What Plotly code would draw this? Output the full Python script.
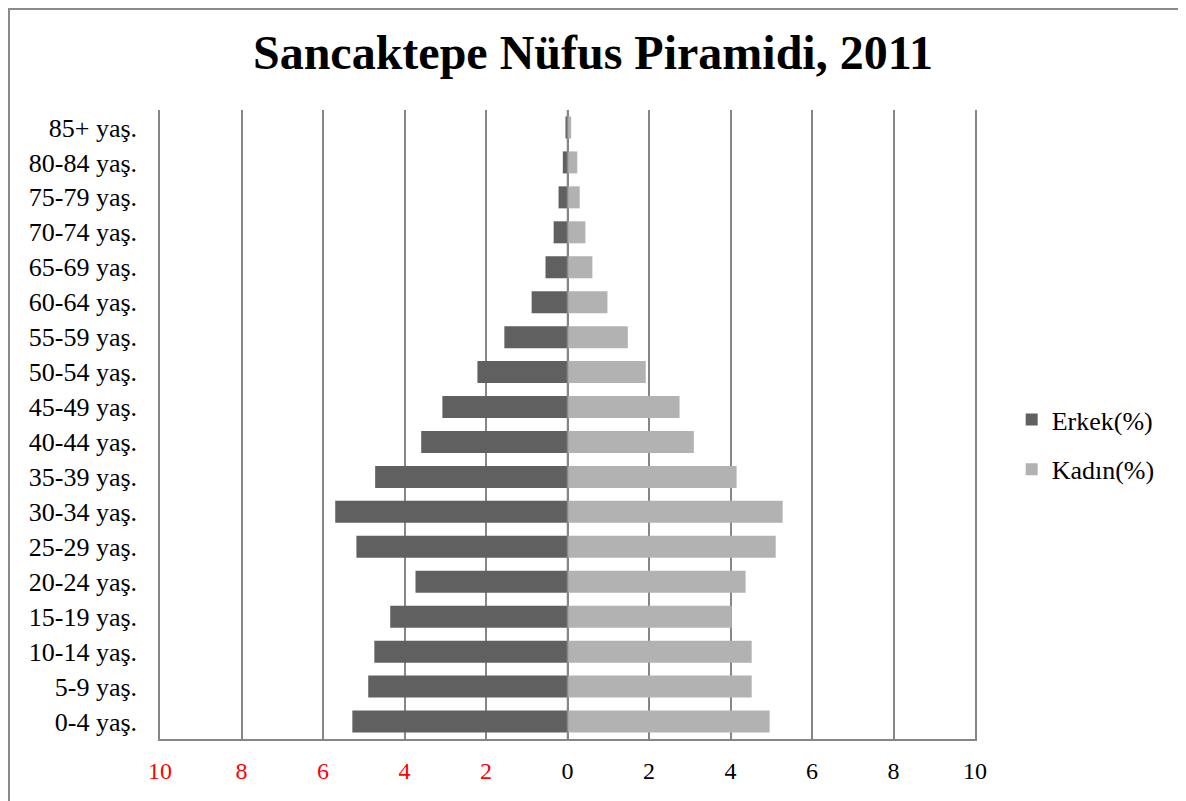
import plotly.graph_objects as go

categories = ["0-4 yaş.", "5-9 yaş.", "10-14 yaş.", "15-19 yaş.", "20-24 yaş.", "25-29 yaş.",
              "30-34 yaş.", "35-39 yaş.", "40-44 yaş.", "45-49 yaş.", "50-54 yaş.", "55-59 yaş.",
              "60-64 yaş.", "65-69 yaş.", "70-74 yaş.", "75-79 yaş.", "80-84 yaş.", "85+ yaş."]
erkek = [5.28, 4.89, 4.74, 4.35, 3.73, 5.18, 5.70, 4.72, 3.59, 3.07, 2.21, 1.55,
         0.88, 0.54, 0.34, 0.22, 0.115, 0.05]
kadin = [4.96, 4.52, 4.52, 4.03, 4.37, 5.11, 5.28, 4.15, 3.10, 2.75, 1.92, 1.48,
         0.98, 0.61, 0.44, 0.30, 0.24, 0.09]
tick_vals = [-10, -8, -6, -4, -2, 0, 2, 4, 6, 8, 10]
tick_text = ['<span style="color:#ff0000">10</span>', '<span style="color:#ff0000">8</span>',
             '<span style="color:#ff0000">6</span>', '<span style="color:#ff0000">4</span>',
             '<span style="color:#ff0000">2</span>', "0", "2", "4", "6", "8", "10"]

FONT = "Liberation Serif, Times New Roman, serif"
GRID = "#868686"

fig = go.Figure()
fig.add_trace(go.Bar(y=categories, x=[-v for v in erkek], orientation="h", name="Erkek(%)",
                     marker=dict(color="#606060", line=dict(width=0)), legendgroup="e"))
fig.add_trace(go.Bar(y=categories, x=kadin, orientation="h", name="Kadın(%)",
                     marker=dict(color="#b2b2b2", line=dict(width=0)), legendgroup="k"))

fig.update_layout(
    width=1186, height=801,
    margin=dict(l=152, r=219, t=102, b=70, autoexpand=False),
    paper_bgcolor="white", plot_bgcolor="white",
    barmode="relative", bargap=0.37,
    font=dict(family=FONT, color="black", size=24),
    title=dict(text="<b>Sancaktepe Nüfus Piramidi, 2011</b>", x=(593 - 8) / 1186, xanchor="center",
               y=1 - 44 / 801, yanchor="middle", xref="container", yref="container",
               font=dict(family=FONT, size=48, color="black")),
    legend=dict(x=1.045, y=0.468, xanchor="left", yanchor="middle",
                font=dict(family=FONT, size=26), tracegroupgap=13, traceorder="grouped",
                bgcolor="rgba(0,0,0,0)"),
    showlegend=True,
)
fig.update_xaxes(range=[-10, 10], tickvals=tick_vals, ticktext=tick_text,
                 showgrid=True, gridcolor=GRID, gridwidth=1.5,
                 zeroline=False, showline=True, linecolor=GRID, linewidth=1.5,
                 ticks="", ticklabelstandoff=9, tickfont=dict(size=24, family=FONT),
                 automargin=False, fixedrange=True)
fig.update_yaxes(showgrid=False, zeroline=False, showline=True, mirror=True,
                 linecolor=GRID, linewidth=1.5, ticks="",
                 ticklabelstandoff=16, tickfont=dict(size=26, family=FONT),
                 automargin=False, fixedrange=True)
# vertical axis at zero
fig.add_vline(x=0, line=dict(color=GRID, width=1.5))
# outer chart border
fig.add_shape(type="rect", xref="paper", yref="paper",
              x0=(9 - 160) / 815, x1=(1179 - 160) / 815,
              y0=(739 - 815) / 629, y1=(739 - 9) / 629,
              line=dict(color="#8a8a8a", width=2), layer="below")

fig.write_html("out.html")
